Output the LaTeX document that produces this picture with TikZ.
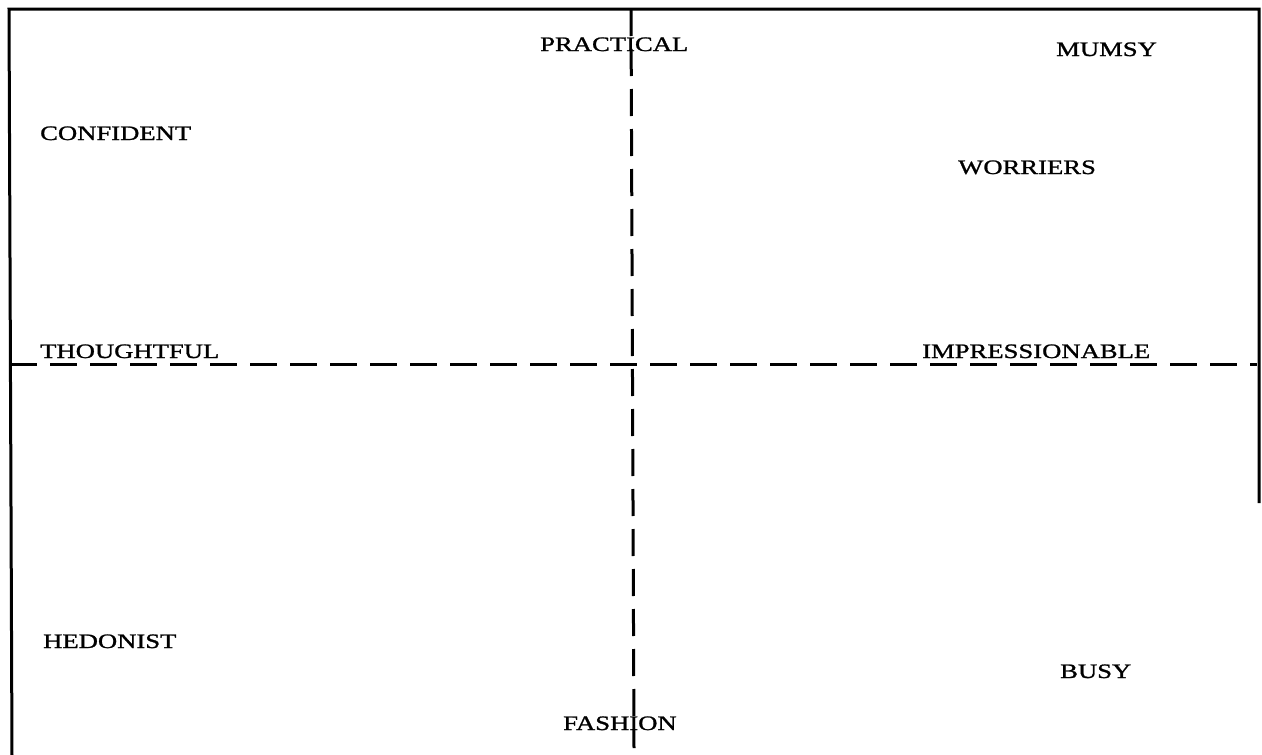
\documentclass[tikz,border=0pt]{standalone}
\usepackage{fontspec}
\newfontfamily\wide[FakeStretch=1.3,FakeBold=1.2]{Liberation Serif}
\begin{document}
\begin{tikzpicture}[x=1pt,y=-1pt,
  lbl/.style={inner sep=0pt,anchor=base west,font=\wide\fontsize{20.5}{24}\selectfont},
  frame/.style={line width=3pt},
  axis/.style={line width=3pt,dash pattern=on 27pt off 13pt}]
\useasboundingbox (0,0) rectangle (1262,755);
\coordinate (bl) at (12,755);
\coordinate (tl) at (9,9);
\coordinate (tr) at (1259,9);
\coordinate (br) at (1259,503);
\draw[frame] (bl) -- (tl) -- (tr) -- (br);
\coordinate (vt) at (631,9);
\coordinate (vb) at (634,748);
\coordinate (hl) at (10,364);
\coordinate (hr) at (1257,364);
\draw[axis] (vt) -- (vb);
\draw[axis] (hl) -- (hr);
\node[lbl] (practical) at (540,51) {PRACTICAL};
\node[lbl] (mumsy) at (1056,56) {MUMSY};
\node[lbl] (confident) at (40,140) {CONFIDENT};
\node[lbl] (worriers) at (958,174) {WORRIERS};
\node[lbl] (thoughtful) at (40,358) {THOUGHTFUL};
\node[lbl] (impressionable) at (922,358) {IMPRESSIONABLE};
\node[lbl] (hedonist) at (43,648) {HEDONIST};
\node[lbl] (busy) at (1060,678) {BUSY};
\node[lbl] (fashion) at (563,730) {FASHION};
\end{tikzpicture}
\end{document}
